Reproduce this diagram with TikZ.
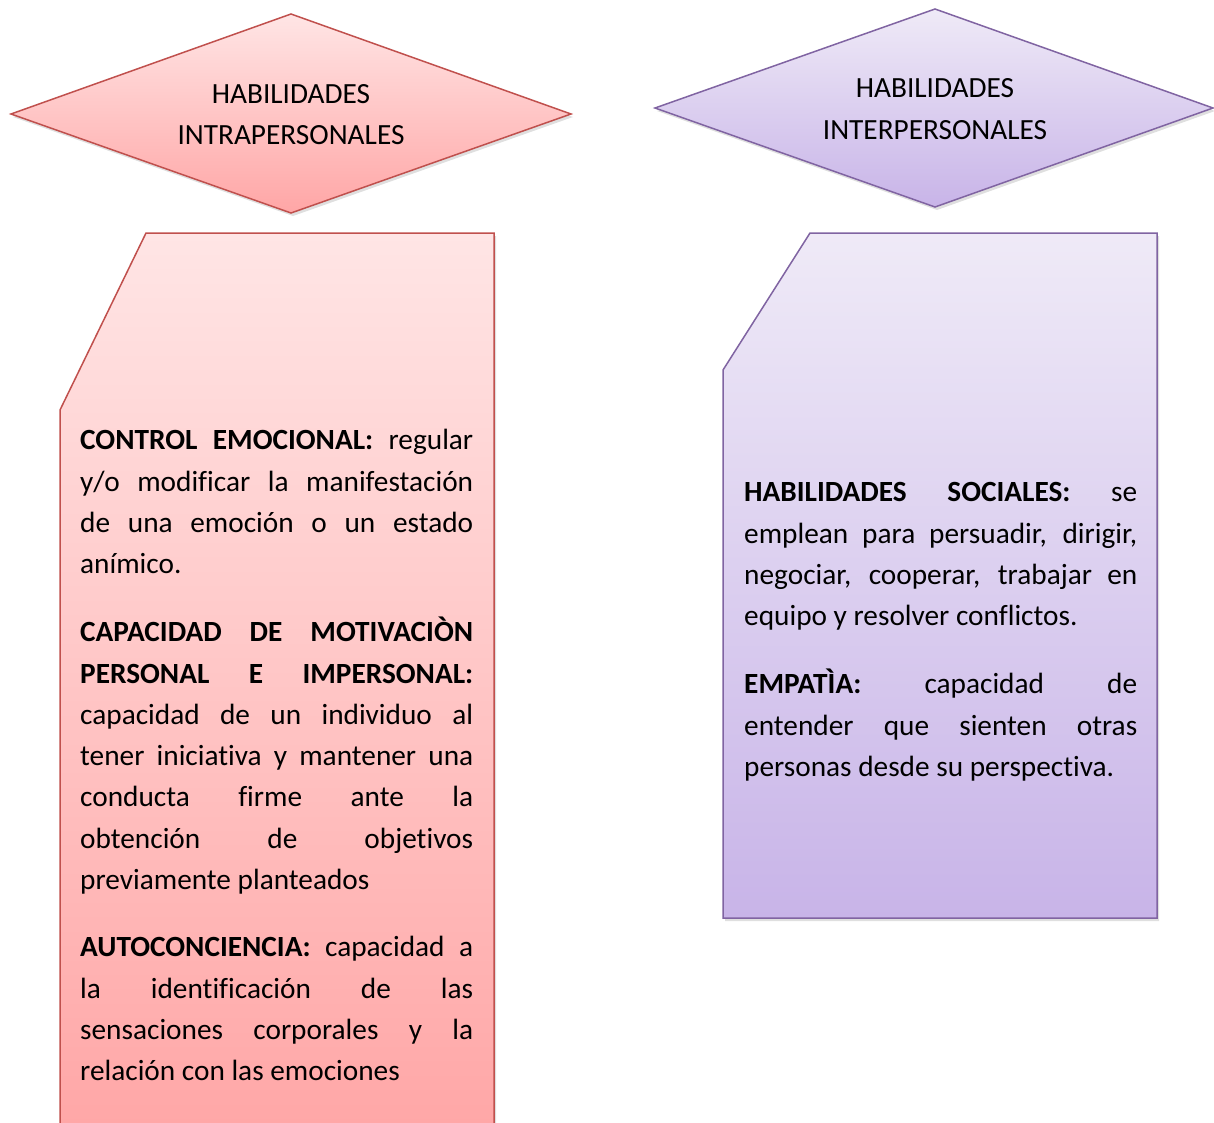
\documentclass[tikz,border=0pt]{standalone}
\usepackage{fontspec}
\setmainfont{Carlito}[Ligatures={NoCommon,NoRare,NoContextual},Contextuals=NoAlternate]
\usetikzlibrary{shadows}
\definecolor{redline}{RGB}{192,80,77}
\definecolor{redtop}{RGB}{255,229,229}
\definecolor{redbot}{RGB}{255,166,166}
\definecolor{purline}{RGB}{128,100,162}
\definecolor{purtop}{RGB}{239,234,247}
\definecolor{purbot}{RGB}{200,180,232}
\newlength\tw
\setlength\tw{393pt}
\newcommand\jl[1]{\makebox[\tw][s]{#1}}
\tikzset{
  redshape/.style={draw=redline, line width=1.5pt, line join=miter, top color=redtop, bottom color=redbot,
    drop shadow={opacity=0.25, shadow xshift=2pt, shadow yshift=-3pt}},
  purshape/.style={draw=purline, line width=1.5pt, line join=miter, top color=purtop, bottom color=purbot,
    drop shadow={opacity=0.25, shadow xshift=2pt, shadow yshift=-3pt}},
  body/.style={inner sep=0pt, anchor=north west, align=left, font=\fontsize{29.3}{41.3}\selectfont},
  title/.style={inner sep=0pt, anchor=north, align=center, font=\fontsize{29.3}{41.3}\selectfont}
}
\begin{document}
\begin{tikzpicture}[x=1pt, y=-1pt]
\useasboundingbox (0,0) rectangle (1214,1122);
\clip (0,0) rectangle (1214,1122);
% diamonds
\coordinate (lt) at (291,14);
\coordinate (ll) at (11,114);
\coordinate (lr) at (571,114);
\coordinate (lb) at (291,213);
\path[redshape] (lt) -- (lr) -- (lb) -- (ll) -- cycle;
\coordinate (rt) at (935,9);
\coordinate (rl) at (655,108);
\coordinate (rr) at (1213,108);
\coordinate (rb) at (935,207);
\path[purshape] (rt) -- (rr) -- (rb) -- (rl) -- cycle;
\node[title] (t1) at (291,74.4) {\strut HABILIDADES\\INTRAPERSONALES};
\node[title] (t2) at (935,68.8) {\strut HABILIDADES\\INTERPERSONALES};
% boxes
\path[redshape] (146,233) -- (494,233) -- (494,1140) -- (60,1140) -- (60,410) -- cycle;
\path[purshape] (810,233) -- (1157,233) -- (1157,918) -- (723,918) -- (723,370) -- cycle;
% left texts
\node[body] (p1) at (80,420.6) {\strut\jl{\textbf{CONTROL EMOCIONAL:} regular}\\
\jl{y/o modificar la manifestación}\\
\jl{de una emoción o un estado}\\
anímico.};
\node[body] (p2) at (80,612.6) {\strut\jl{\textbf{CAPACIDAD DE MOTIVACIÒN}}\\
\jl{\textbf{PERSONAL E IMPERSONAL:}}\\
\jl{capacidad de un individuo al}\\
\jl{tener iniciativa y mantener una}\\
\jl{conducta firme ante la}\\
\jl{obtención de objetivos}\\
previamente planteados};
\node[body] (p3) at (80,927.6) {\strut\jl{\textbf{AUTOCONCIENCIA:} capacidad a}\\
\jl{la identificación de las}\\
\jl{sensaciones corporales y la}\\
relación con las emociones};
% right texts
\node[body] (r1) at (744,472.6) {\strut\jl{\textbf{HABILIDADES SOCIALES:} se}\\
\jl{emplean para persuadir, dirigir,}\\
\jl{negociar, cooperar, trabajar en}\\
equipo y resolver conflictos.};
\node[body] (r2) at (744,664.6) {\strut\jl{\textbf{EMPATÌA:} capacidad de}\\
\jl{entender que sienten otras}\\
personas desde su perspectiva.};
\end{tikzpicture}
\end{document}
